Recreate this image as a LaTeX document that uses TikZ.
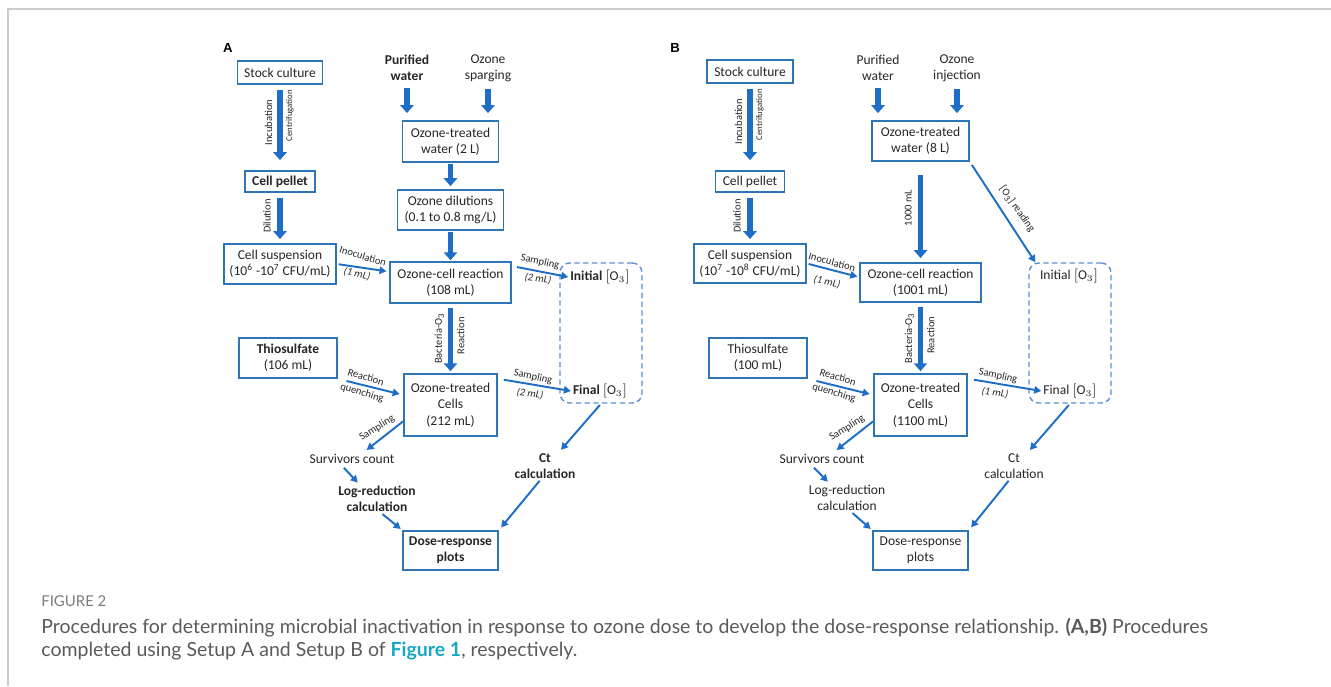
\documentclass[tikz,border=0pt]{standalone}
\usepackage{fontspec}
\setmainfont{Carlito}
\newfontfamily\capfont{Lato}
\newfontfamily\tagfont{Liberation Sans}
\usepackage{tikz}
\usetikzlibrary{arrows.meta}

\definecolor{boxblue}{HTML}{2E75B6}
\definecolor{arrblue}{HTML}{1E6EC8}
\definecolor{dashblue}{HTML}{5B8FD0}
\definecolor{capgray}{HTML}{5A5A5A}
\definecolor{figteal}{HTML}{17A9C4}
\definecolor{framegray}{HTML}{CCCCCC}
\newcommand{\boxfs}{\fontsize{7.7}{9.3}\selectfont}
\newcommand{\lblfs}{\fontsize{6}{7}\selectfont}
\newcommand{\narrowfs}{\fontsize{5}{6}\selectfont}
\newcommand{\oz}{$[\mathrm{O}_3]$}

\tikzset{
  box/.style = {draw=boxblue, line width=1pt, align=center, inner sep=1pt, font=\boxfs, text=black!85},
  txt/.style = {align=center, inner sep=1pt, font=\boxfs, text=black!85},
  o3box/.style = {draw=dashblue, line width=0.8pt, dash pattern=on 3pt off 2pt, rounded corners=5.5pt},
  fatarrow/.style = {arrblue, line width=3.3pt, -{Triangle[width=7.5pt,length=4.5pt]}},
  thinarrow/.style = {arrblue, line width=1.1pt, -{Triangle[width=4.2pt,length=4pt]}},
  lbl/.style = {font=\lblfs, inner sep=0pt, text=black!85},
  tag/.style = {font=\tagfont\bfseries\fontsize{7.5}{8}\selectfont, inner sep=0pt},
  caption/.style = {font=\capfont\fontsize{11.1}{13}\selectfont, text=capgray, anchor=base west, inner sep=0pt},
}

\begin{document}
\begin{tikzpicture}[x=0.02cm, y=-0.02cm]
\useasboundingbox (0,0) rectangle (1331,686);
\draw[framegray, line width=1.2pt] (8,686) -- (8,9) -- (1331,9);

%% panel A
\node[tag] (tagA) at (228,48) {A};
\node[box, minimum width=1.70cm, minimum height=0.46cm] (stockA) at (280,72.5) {Stock culture};
\node[box, minimum width=1.40cm, minimum height=0.42cm, font=\boxfs\bfseries] (pelletA) at (280,181.5) {Cell pellet};
\node[box, minimum width=2.24cm, minimum height=0.80cm] (suspA) at (280,264) {Cell suspension\\(10\textsuperscript{6} -10\textsuperscript{7} CFU/mL)};
\node[txt, font=\boxfs\bfseries] (purA) at (407,68) {Purified\\water};
\node[txt] (ozA) at (488,68) {Ozone\\sparging};
\node[box, minimum width=1.92cm, minimum height=0.82cm] (watA) at (450.5,141.5) {Ozone-treated\\water (2 L)};
\node[box, minimum width=2.12cm, minimum height=0.80cm] (dilA) at (450.5,210) {Ozone dilutions\\(0.1 to 0.8 mg/L)};
\node[box, minimum width=2.42cm, minimum height=0.82cm] (reacA) at (450.5,282.5) {Ozone-cell reaction\\(108 mL)};
\node[box, minimum width=1.96cm, minimum height=0.80cm] (thioA) at (288,358) {\textbf{Thiosulfate}\\(106 mL)};
\node[box, minimum width=1.86cm, minimum height=1.24cm] (cellsA) at (450.5,405) {Ozone-treated\\Cells\\(212 mL)};
\node[o3box, minimum width=1.64cm, minimum height=2.80cm] (o3A) at (601,333) {};
\node[txt] (iniA) at (600,277) {\textbf{Initial} \oz};
\node[txt] (finA) at (600,391) {\textbf{Final} \oz};
\node[txt] (survA) at (352,459) {Survivors count};
\node[txt, font=\boxfs\bfseries] (logA) at (377,499) {Log-reduction\\calculation};
\node[txt, font=\boxfs\bfseries] (ctA) at (545,466) {Ct\\calculation};
\node[box, minimum width=1.90cm, minimum height=0.78cm, font=\boxfs\bfseries] (doseA) at (450.5,550.5) {Dose-response\\plots};

\draw[fatarrow, shorten <=2.8pt, shorten >=5.7pt] (stockA.south) -- (pelletA.north)
  node[lbl, pos=.44, xshift=-6.6pt, rotate=90] {Incubation}
  node[lbl, font=\narrowfs, pos=.36, xshift=5.6pt, rotate=90] {Centrifugation};
\draw[fatarrow, shorten <=2.8pt, shorten >=2.3pt] (pelletA.south) -- (suspA.north)
  node[lbl, pos=.46, xshift=-7.4pt, rotate=90] {Dilution};
\draw[fatarrow, shorten <=3pt, shorten >=4pt] (purA.south) -- (purA.south |- watA.north);
\draw[fatarrow, shorten <=3pt, shorten >=4pt] (ozA.south) -- (ozA.south |- watA.north);
\draw[fatarrow, shorten <=0.6pt, shorten >=1.7pt] (watA) -- (dilA);
\draw[fatarrow, shorten <=0.5pt, shorten >=0.5pt] (dilA) -- (reacA);
\draw[fatarrow, shorten <=2.3pt, shorten >=1.1pt] (reacA) -- (cellsA)
  node[lbl, pos=.5, xshift=-6.3pt, rotate=90] {Bacteria-O\textsubscript{3}}
  node[lbl, pos=.46, xshift=5.9pt, rotate=90] {Reaction};
\draw[thinarrow, shorten <=1pt, shorten >=1.5pt] (suspA.east) -- (reacA.170)
  node[lbl, rotate=-17] at (363,256) {Inoculation}
  node[lbl, rotate=-12] at (357,274) {\itshape (1 mL)};
\draw[thinarrow, shorten <=3pt] (reacA.15) -- (iniA.west)
  node[lbl, rotate=-12] at (540,262) {Sampling}
  node[lbl, rotate=-8] at (538,279) {\itshape (2 mL)};
\draw[thinarrow, shorten <=5pt, shorten >=2pt] (thioA.south east) -- (cellsA.168)
  node[lbl, rotate=-17] at (366,377) {Reaction}
  node[lbl, rotate=-17] at (362,393) {quenching};
\draw[thinarrow, shorten <=3.4pt] (cellsA.29) -- (finA.west)
  node[lbl, rotate=-12] at (533,377) {Sampling}
  node[lbl, rotate=-8] at (530,394) {\itshape (2 mL)};
\draw[thinarrow, shorten >=2pt] (cellsA.199) -- (survA.30)
  node[lbl, rotate=32] at (377,428) {Sampling};
\draw[thinarrow, shorten <=1.5pt, shorten >=1pt] ([xshift=-5.7pt]survA.south) -- (logA.140);
\draw[thinarrow, shorten >=1pt] (logA.-70) -- (doseA.north west);
\draw[thinarrow, shorten <=1pt, shorten >=1pt] (o3A.south) -- (ctA.45);
\draw[thinarrow, shorten >=2pt] (ctA.250) -- (doseA.north east);

%% panel B
\node[tag] (tagB) at (675,48) {B};
\node[box, minimum width=1.72cm, minimum height=0.46cm] (stockB) at (750,71.5) {Stock culture};
\node[box, minimum width=1.38cm, minimum height=0.42cm] (pelletB) at (750,181.5) {Cell pellet};
\node[box, minimum width=2.24cm, minimum height=0.78cm] (suspB) at (750,263.5) {Cell suspension\\(10\textsuperscript{7} -10\textsuperscript{8} CFU/mL)};
\node[txt] (purB) at (878,68) {Purified\\water};
\node[txt] (ozB) at (957,68) {Ozone\\injection};
\node[box, minimum width=1.94cm, minimum height=0.80cm] (watB) at (920.5,141) {Ozone-treated\\water (8 L)};
\node[box, minimum width=2.42cm, minimum height=0.78cm] (reacB) at (920.5,282.5) {Ozone-cell reaction\\(1001 mL)};
\node[box, minimum width=1.96cm, minimum height=0.80cm] (thioB) at (758,358) {Thiosulfate\\(100 mL)};
\node[box, minimum width=1.86cm, minimum height=1.24cm] (cellsB) at (920.5,405) {Ozone-treated\\Cells\\(1100 mL)};
\node[o3box, minimum width=1.64cm, minimum height=2.80cm] (o3B) at (1070,333) {};
\node[txt] (iniB) at (1069,276) {Initial \oz};
\node[txt] (finB) at (1070,391) {Final \oz};
\node[txt] (survB) at (822,459) {Survivors count};
\node[txt] (logB) at (847,498) {Log-reduction\\calculation};
\node[txt] (ctB) at (1014,466) {Ct\\calculation};
\node[box, minimum width=1.90cm, minimum height=0.78cm] (doseB) at (920.5,550.5) {Dose-response\\plots};

\draw[fatarrow, shorten <=2.8pt, shorten >=5.7pt] (stockB.south) -- (pelletB.north)
  node[lbl, pos=.44, xshift=-6.6pt, rotate=90] {Incubation}
  node[lbl, font=\narrowfs, pos=.36, xshift=5.6pt, rotate=90] {Centrifugation};
\draw[fatarrow, shorten <=2.8pt, shorten >=2.3pt] (pelletB.south) -- (suspB.north)
  node[lbl, pos=.46, xshift=-7.4pt, rotate=90] {Dilution};
\draw[fatarrow, shorten <=3pt, shorten >=4pt] (purB.south) -- (purB.south |- watB.north);
\draw[fatarrow, shorten <=3pt, shorten >=4pt] (ozB.south) -- (ozB.south |- watB.north);
\draw[fatarrow, shorten <=7.4pt, shorten >=2.3pt] (watB) -- (reacB)
  node[lbl, pos=.46, xshift=-7pt, rotate=90] {1000 mL};
\draw[thinarrow, shorten <=2pt] (watB.south east) -- ([xshift=4pt]o3B.north west)
  node[lbl, rotate=-55] at (1017,209) {[O\textsubscript{3}] reading};
\draw[fatarrow, shorten <=2.3pt, shorten >=1.1pt] (reacB) -- (cellsB)
  node[lbl, pos=.5, xshift=-6.3pt, rotate=90] {Bacteria-O\textsubscript{3}}
  node[lbl, pos=.46, xshift=5.9pt, rotate=90] {Reaction};
\draw[thinarrow, shorten <=1pt, shorten >=1pt] (suspB.east) -- (reacB.175)
  node[lbl, rotate=-15] at (832,262) {Inoculation}
  node[lbl, rotate=-12] at (827,282) {\itshape (1 mL)};
\draw[thinarrow, shorten <=5pt, shorten >=2pt] (thioB.south east) -- (cellsB.168)
  node[lbl, rotate=-17] at (838,377) {Reaction}
  node[lbl, rotate=-17] at (834,393) {quenching};
\draw[thinarrow, shorten <=3.4pt] (cellsB.29) -- (finB.west)
  node[lbl, rotate=-12] at (998,376) {Sampling}
  node[lbl, rotate=-8] at (995,393) {\itshape (1 mL)};
\draw[thinarrow, shorten >=2pt] (cellsB.199) -- (survB.30)
  node[lbl, rotate=32] at (847,428) {Sampling};
\draw[thinarrow, shorten <=1.5pt, shorten >=1pt] ([xshift=-5.7pt]survB.south) -- (logB.140);
\draw[thinarrow, shorten >=1pt] (logB.-70) -- (doseB.north west);
\draw[thinarrow, shorten <=1pt, shorten >=1pt] (o3B.south) -- (ctB.45);
\draw[thinarrow, shorten >=2pt] (ctB.250) -- (doseB.north east);

%% caption
\node[caption, font=\capfont\fontsize{8.5}{9}\selectfont, text=capgray!80] (figno) at (41,606) {FIGURE 2};
\node[caption] (cap1) at (41,633) {Procedures for determining microbial inactivation in response to ozone dose to develop the dose-response relationship. \textbf{(A,B)} Procedures};
\node[caption] (cap2) at (41,656) {completed using Setup A and Setup B of \textbf{\color{figteal}Figure 1}, respectively.};
\end{tikzpicture}
\end{document}
